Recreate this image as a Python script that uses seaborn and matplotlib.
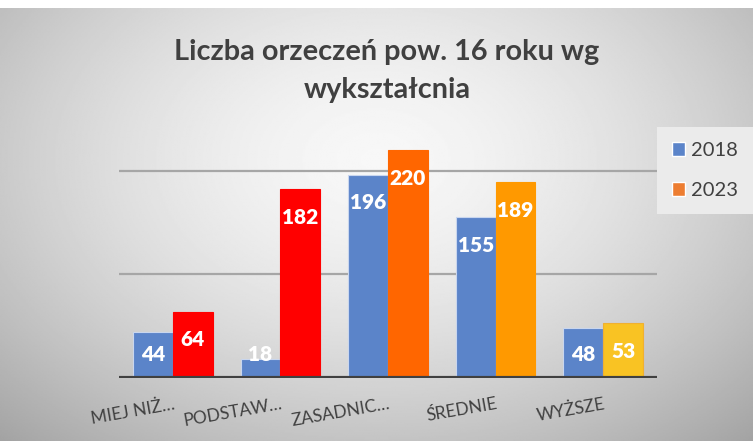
import numpy as np
import pandas as pd
import seaborn as sns
import matplotlib.pyplot as plt
from matplotlib.patches import Patch

# data
categories = ['MIEJ NIŻ…', 'PODSTAW…', 'ZASADNIC…', 'ŚREDNIE', 'WYŻSZE']
years = ['2018', '2023']
values_2018 = [44, 18, 196, 155, 48]
values_2023 = [64, 182, 220, 189, 53]
colors_2023 = ['#FF0000', '#FF0000', '#FF6600', '#FF9900', '#F9C323']
blue = '#5B84C9'
legend_orange = '#ED7D31'
text_col = '#404040'

df = pd.DataFrame({
    'cat': categories * 2,
    'year': ['2018'] * 5 + ['2023'] * 5,
    'val': values_2018 + values_2023,
})

sns.set_theme(style='white')
plt.rcParams['font.family'] = ['Lato', 'DejaVu Sans']

W, H = 753, 441
fig = plt.figure(figsize=(W / 100, H / 100), dpi=100)
fig.patch.set_facecolor('white')

# radial gradient background
bg = fig.add_axes([0, 0, 1, 1 - 8 / H])
yy, xx = np.mgrid[0:1:300j, 0:1:500j]
r = np.sqrt(((xx - 0.5) / 0.75) ** 2 + ((yy - 0.35) / 0.9) ** 2)
shade = np.clip(0.97 - 0.34 * r ** 1.6, 0, 1)
bg.imshow(shade, cmap='gray', vmin=0, vmax=1, aspect='auto', extent=[0, 1, 1, 0])
bg.axis('off')

left, right = 119 / W, 657 / W
bottom = 1 - 378 / H
height = 259 / H
ax = fig.add_axes([left, bottom, right - left, height])
ax.patch.set_alpha(0)

sns.barplot(data=df, x='cat', y='val', hue='year', palette=[blue, legend_orange],
            width=0.74, ax=ax, legend=False, saturation=1, linewidth=0)

for patch in ax.containers[0]:
    patch.set_facecolor(blue)
    patch.set_edgecolor('#C9D6EE')
    patch.set_linewidth(0.8)
for patch, c in zip(ax.containers[1], colors_2023):
    patch.set_facecolor(c)
    patch.set_edgecolor(c)
    patch.set_linewidth(0.8)
ax.containers[1][4].set_edgecolor('#F0B030')

ax.set_ylim(0, 250)
ax.set_xlim(-0.5, 4.5)
for g in (100, 200):
    ax.axhline(g, color='#A6A6A6', lw=1.6, zorder=0)
ax.axhline(0, color='#404040', lw=3, zorder=5)

for cont, vals in zip(ax.containers, (values_2018, values_2023)):
    for patch, v in zip(cont, vals):
        cx = patch.get_x() + patch.get_width() / 2
        ax.text(cx, max(v - 27, 23), str(v), ha='center', va='center',
                color='white', fontsize=15, fontweight='heavy', zorder=6)

for s in ax.spines.values():
    s.set_visible(False)
ax.set_yticks([])
ax.set_xlabel('')
ax.set_ylabel('')
ax.tick_params(axis='x', length=0, pad=13)
ax.set_xticks(range(len(categories)))
ax.set_xticklabels(categories, rotation=10, ha='right', va='top',
                   rotation_mode='anchor', fontsize=12.5, color=text_col)

fig.text(387 / W, 1 - 52 / H, 'Liczba orzeczeń pow. 16 roku wg', ha='center', va='center',
         fontsize=20.8, fontweight='bold', color=text_col)
fig.text(387 / W, 1 - 90 / H, 'wykształcnia', ha='center', va='center',
         fontsize=20.8, fontweight='bold', color=text_col)

handles = [Patch(facecolor=blue), Patch(facecolor=legend_orange)]
leg = ax.legend(handles, years, loc='upper left', bbox_to_anchor=(657 / W, 1 - 127 / H),
                bbox_transform=fig.transFigure, frameon=True, fancybox=False,
                facecolor='#EBEBEB', edgecolor='none', framealpha=1, borderaxespad=0,
                fontsize=14.5, labelspacing=1.15, handlelength=0.65, handleheight=0.65,
                handletextpad=0.3, borderpad=0.75)
for t in leg.get_texts():
    t.set_color(text_col)

fig.savefig('out.png', dpi=100)
